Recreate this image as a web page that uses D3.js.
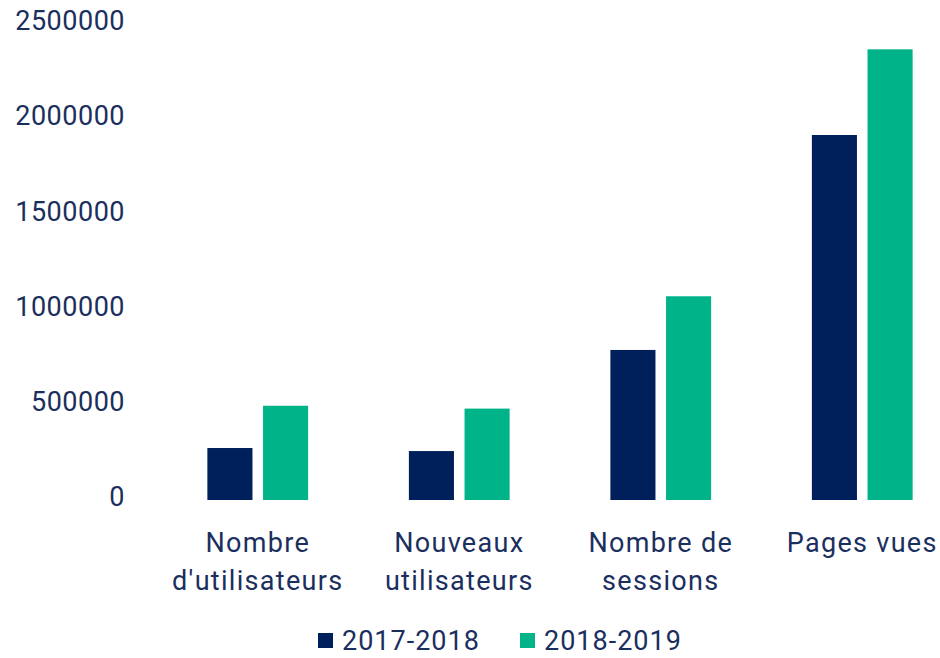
<!DOCTYPE html>
<html>
<head>
<meta charset="utf-8">
<script src="https://cdn.jsdelivr.net/npm/d3@7"></script>
<style>
  body { margin: 0; background: #fff; }
  text { font-family: Roboto, "Noto Sans", sans-serif; fill: #1b2f5e; }
</style>
</head>
<body>
<div id="chart"></div>
<script>
// data
var categories = ["Nombre d'utilisateurs", "Nouveaux utilisateurs", "Nombre de sessions", "Pages vues"];
var categoryLines = [["Nombre", "d'utilisateurs"], ["Nouveaux", "utilisateurs"], ["Nombre de", "sessions"], ["Pages vues"]];
var seriesNames = ["2017-2018", "2018-2019"];
var values2017 = [273000, 257000, 788000, 1917000];
var values2018 = [495000, 480000, 1070000, 2367000];
var yTicks = [0, 500000, 1000000, 1500000, 2000000, 2500000];

var colors = ["#00205b", "#00b388"];
var width = 940, height = 658;

var svg = d3.select("#chart").append("svg")
    .attr("width", width)
    .attr("height", height);

var y = d3.scaleLinear().domain([0, 2500000]).range([500, 24]);

var x0 = d3.scaleBand()
    .domain(categories)
    .range([157, 963])
    .paddingInner(0.5)
    .paddingOuter(0.25);

var x1 = d3.scaleBand()
    .domain(seriesNames)
    .range([0, x0.bandwidth()])
    .paddingInner(0.19);

var rows = categories.map(function (c, i) {
    return { cat: c, vals: [values2017[i], values2018[i]] };
});

// y axis, labels only
var yAxis = svg.append("g")
    .attr("transform", "translate(125,0)")
    .call(d3.axisLeft(y).tickValues(yTicks).tickSize(0).tickPadding(0).tickFormat(d3.format("d")));
yAxis.select(".domain").remove();
yAxis.selectAll("text")
    .attr("dy", "0.32em")
    .attr("y", -3)
    .style("font-size", "27px")
    .style("letter-spacing", "0.5px")
    .style("fill", "#1b2f5e");

// bars
var groups = svg.append("g").selectAll("g")
    .data(rows)
    .join("g")
    .attr("transform", function (d) { return "translate(" + x0(d.cat) + ",0)"; });

groups.selectAll("rect")
    .data(function (d) { return d.vals.map(function (v, i) { return { key: seriesNames[i], value: v, i: i }; }); })
    .join("rect")
    .attr("x", function (d) { return x1(d.key); })
    .attr("y", function (d) { return y(d.value); })
    .attr("width", x1.bandwidth())
    .attr("height", function (d) { return y(0) - y(d.value); })
    .attr("fill", function (d) { return colors[d.i]; });

// category labels
var xAxis = svg.append("g")
    .attr("transform", "translate(0,500)")
    .call(d3.axisBottom(x0).tickSize(0).tickFormat(""));
xAxis.select(".domain").remove();
xAxis.selectAll(".tick text").remove();
xAxis.selectAll(".tick").append("text")
    .attr("text-anchor", "middle")
    .style("font-size", "27px")
    .style("letter-spacing", "1.3px")
    .style("fill", "#1b2f5e")
    .selectAll("tspan")
    .data(function (d) { return categoryLines[categories.indexOf(d)]; })
    .join("tspan")
    .attr("x", 0)
    .attr("y", function (d, i) { return 52 + i * 38; })
    .text(function (d) { return d; });

// legend
var legendX = [318, 520];
var legend = svg.append("g").selectAll("g")
    .data(seriesNames)
    .join("g")
    .attr("transform", function (d, i) { return "translate(" + legendX[i] + ",633)"; });

legend.append("rect")
    .attr("width", 15)
    .attr("height", 15)
    .attr("fill", function (d, i) { return colors[i]; });

legend.append("text")
    .attr("x", 24)
    .attr("y", 17)
    .style("font-size", "27px")
    .style("letter-spacing", "1px")
    .text(function (d) { return d; });
</script>
</body>
</html>
